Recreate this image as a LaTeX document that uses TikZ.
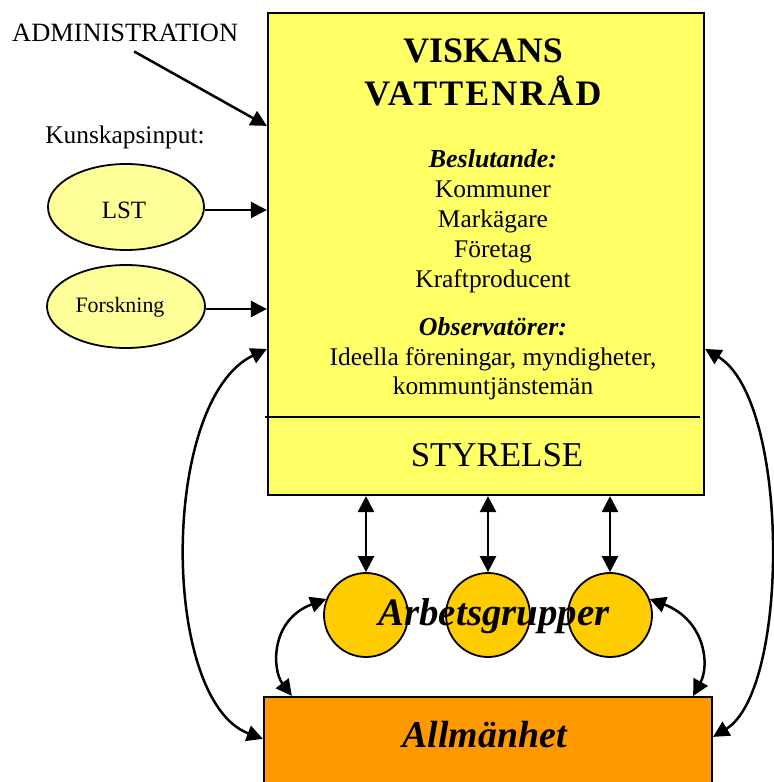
\documentclass[tikz,border=0pt]{standalone}
\usepackage{fontspec}
\setmainfont{Liberation Serif}
\usetikzlibrary{arrows.meta,shapes.geometric}
\definecolor{boxyellow}{HTML}{FFFF66}
\definecolor{ellyellow}{HTML}{FFFF99}
\definecolor{grpgold}{HTML}{FFCC00}
\definecolor{pubor}{HTML}{FF9900}
\begin{document}
\begin{tikzpicture}[x=1bp,y=-1bp,
  arr/.style={line width=2.5bp,-{Triangle[length=16bp,width=16bp]}},
  dbl/.style={line width=2.5bp,{Triangle[length=16bp,width=16bp]}-{Triangle[length=16bp,width=16bp]}},
  txt/.style={anchor=base,inner sep=0pt,text=black},
  reg/.style={txt,font=\fontsize{25.5}{30}\selectfont},
  bi/.style={txt,font=\bfseries\itshape\fontsize{26}{30}\selectfont},
  bigbox/.style={draw,line width=2.2bp,inner sep=0pt,rectangle},
  inell/.style={draw,line width=1.8bp,fill=ellyellow,ellipse,inner sep=0pt},
  grp/.style={draw,line width=1.8bp,fill=grpgold,circle,inner sep=0pt,minimum size=84bp}]
\useasboundingbox (0,0) rectangle (774,782);
\clip (0,0) rectangle (774,782);

% main box
\node[bigbox,fill=boxyellow,minimum width=436bp,minimum height=482bp] (vr) at (486,254) {};
\draw[line width=2bp] (265,417) -- (700,417);

\node[txt,font=\bfseries\fontsize{36}{40}\selectfont] (t1) at (483,63) {VISKANS};
\node[txt,font=\bfseries\fontsize{36}{40}\selectfont\addfontfeatures{LetterSpace=6}] (t2) at (483,105) {VATTENRÅD};
\node[bi] (b0) at (493,167) {Beslutande:};
\node[reg] (b1) at (493,197) {Kommuner};
\node[reg] (b2) at (493,227) {Markägare};
\node[reg] (b3) at (493,257) {Företag};
\node[reg] (b4) at (493,287) {Kraftproducent};
\node[bi] (o0) at (493,335) {Observatörer:};
\node[reg] (o1) at (493,365) {Ideella föreningar, myndigheter,};
\node[reg] (o2) at (493,394) {kommuntjänstemän};
\node[txt,font=\fontsize{35}{40}\selectfont] (sty) at (497,466) {STYRELSE};

% left inputs
\node[txt,anchor=base west,font=\fontsize{26.5}{30}\selectfont] (adm) at (12,42) {ADMINISTRATION};
\node[txt,font=\fontsize{25.5}{28}\selectfont] (kun) at (125,143) {Kunskapsinput:};
\node[inell,minimum width=156bp,minimum height=86bp] (lst) at (126,207) {};
\node[txt,font=\fontsize{25}{30}\selectfont] (lstt) at (124,218) {LST};
\node[inell,minimum width=158bp,minimum height=83bp] (fors) at (126,306.5) {};
\node[txt,font=\fontsize{22}{26}\selectfont] (forst) at (120,312) {Forskning};

% working groups
\node[grp] (c1) at (366,615) {};
\node[grp] (c2) at (488,615) {};
\node[grp] (c3) at (610,615) {};
\node[txt,font=\bfseries\itshape\fontsize{39}{44}\selectfont] (arb) at (494,625) {Arbetsgrupper};

% public
\node[bigbox,fill=pubor,minimum width=448bp,minimum height=110bp] (al) at (488,752) {};
\node[txt,font=\bfseries\itshape\fontsize{38}{44}\selectfont] (allm) at (484.5,747) {Allmänhet};

% connectors
\coordinate (lstout) at ([yshift=-3bp]lst.east);
\coordinate (forsout) at ([yshift=-2.5bp]fors.east);
\draw[arr] ([xshift=9bp,yshift=-9bp]adm.south) -- ([yshift=-114bp]vr.north west);
\draw[arr] (lstout) -- (lstout -| vr.west);
\draw[arr] (forsout) -- (forsout -| vr.west);

\draw[dbl] (c1 |- vr.south) -- (c1.north);
\draw[dbl] (c2 |- vr.south) -- (c2.north);
\draw[dbl] (c3 |- vr.south) -- (c3.north);

\draw[dbl] ([yshift=-337bp]vr.north west) .. controls (160,400) and (160,700) .. ([yshift=-43bp]al.north west);
\draw[dbl] ([yshift=-337bp]vr.north east) .. controls (790,400) and (790,690) .. ([yshift=-41bp]al.north east);
\draw[dbl] (c1.158) .. controls (270,620) and (272,670) .. ([xshift=29bp]al.north west);
\draw[dbl] (c3.22) .. controls (705,620) and (710,665) .. ([xshift=-20bp]al.north east);
\end{tikzpicture}
\end{document}
